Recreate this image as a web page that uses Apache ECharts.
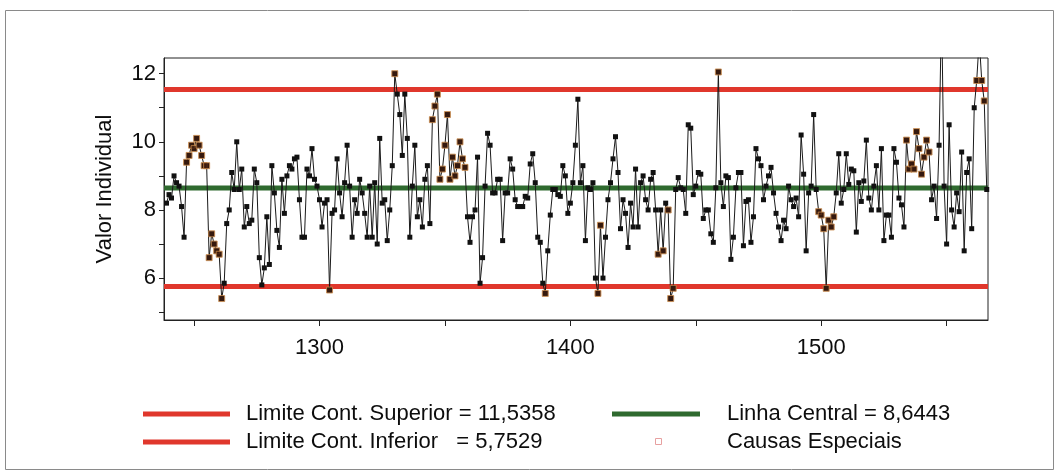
<!DOCTYPE html>
<html>
<head>
<meta charset="utf-8">
<script src="https://cdn.jsdelivr.net/npm/echarts@6/dist/echarts.min.js"></script>
<style>
  html, body { margin: 0; padding: 0; background: #ffffff; }
  #grafico { width: 1059px; height: 475px; }
</style>
</head>
<body>
<div id="grafico"></div>
<script>
// Carta de controle de valores individuais (observações 1239 a 1566)
const primeiraObs = 1239;

const valores1239a1284 = [
  8.2, 8.45, 8.35, 9.0, 8.8, 8.7, 8.1, 7.2, 9.4, 9.6,
  9.9, 9.8, 10.1, 9.9, 9.6, 9.3, 9.3, 6.6, 7.3, 7.0,
  6.8, 6.7, 5.4, 5.85, 7.6, 8.0, 9.1, 8.6, 10.0, 8.6,
  9.2, 7.5, 8.1, 7.6, 7.7, 9.2, 8.8, 6.6, 5.8, 6.3,
  7.8, 6.4, 9.3, 8.5, 7.4, 6.9
];
const valores1285a1347 = [
  8.9, 7.9, 9.0, 9.3, 9.2, 9.5, 9.55, 8.3, 7.2, 7.2,
  9.2, 9.0, 9.8, 8.9, 8.7, 8.3, 7.5, 8.2, 8.3, 5.65,
  7.9, 8.0, 9.5, 8.5, 7.8, 8.8, 9.9, 8.7, 7.2, 8.3,
  7.9, 8.9, 8.5, 7.9, 7.2, 8.7, 7.2, 8.8, 7.0, 10.1,
  8.2, 8.3, 7.1, 8.0, 9.3, 12.0,
  11.4, 10.8, 9.6, 11.4, 10.1, 7.2, 8.7, 9.9, 7.8, 8.3,
  7.5, 8.9, 9.3, 7.6, 10.65, 11.05, 11.4
];
const valores1348a1411 = [
  8.9, 9.2, 9.9, 10.8, 8.9, 9.55, 9.0, 9.3, 10.0, 9.5,
  9.25, 7.8, 7.05, 7.8, 8.0, 9.55, 5.85,
  6.6, 8.7, 10.25, 9.9, 8.5, 8.5, 8.9, 8.9, 7.1, 8.5,
  8.5, 9.5, 9.2, 8.3, 8.1, 8.1, 8.1, 8.4, 8.35, 9.35,
  9.65, 8.8, 7.2, 7.05, 5.85, 5.55,
  6.8, 7.85, 8.6, 8.6, 8.45, 8.4, 9.3, 9.0, 7.9, 8.2,
  8.8, 9.9, 11.25,
  8.8, 9.3, 7.1, 8.65, 8.6, 8.8, 6.0, 5.55
];
const valores1412a1475 = [
  7.55, 6.0, 7.2, 8.3, 8.8, 9.5, 10.15, 9.1, 7.45, 8.3,
  7.9, 6.9, 8.2, 7.5, 9.2, 7.5, 8.8, 9.0, 8.3, 8.0,
  8.9, 9.1, 8.0, 6.7, 8.0, 6.8, 8.2, 8.0, 5.4, 5.7,
  8.6, 8.95, 8.65, 8.6, 7.9, 10.5, 10.4, 8.45, 8.7, 9.1,
  9.05, 7.75, 8.0, 8.0, 7.3, 7.05, 8.65, 12.05, 8.8, 8.1,
  9.0, 8.95, 6.55, 7.2, 8.65, 9.1, 9.1, 6.95, 8.25, 8.3,
  7.05, 7.8, 9.8, 9.5
];
const valores1476a1538 = [
  9.3, 8.3, 8.7, 9.0, 9.25, 8.5, 7.9, 7.5, 7.1, 7.7,
  7.45, 8.7, 8.3, 8.1, 8.35, 7.8, 10.2, 9.05, 6.8, 8.5,
  8.7, 10.8, 8.6, 7.95, 7.85, 7.45, 5.7, 7.7, 7.5, 7.8,
  8.5, 9.65, 8.2, 8.6, 9.65, 8.75, 9.2, 9.15, 7.35, 8.8,
  8.25, 8.85, 10.05, 8.35, 8.0, 8.7, 9.3, 8.0, 9.8, 7.1,
  7.85, 7.85, 7.2, 9.8, 9.4, 8.35, 8.15, 7.5, 10.05, 9.2,
  9.35, 9.2, 10.3
];
const valores1539a1566 = [
  9.8, 9.05, 9.55, 10.05, 9.7, 8.3, 8.7, 7.75, 9.9, 14.0,
  8.7, 7.0, 10.5, 8.0, 7.5, 8.5, 7.95, 9.7, 6.8, 9.1,
  9.5, 7.45, 11.0, 11.8, 13.0, 11.8, 11.2, 8.6
];

// Observações sinalizadas como causas especiais
const causasEspeciais = [
  1247, 1248, 1249, 1250, 1251, 1252, 1253, 1254, 1255, 1256, 1257, 1258, 1259, 1260, 1261,
  1304, 1330,
  1345, 1346, 1347, 1348, 1349, 1350, 1351, 1352, 1353, 1354, 1355, 1356, 1357, 1358,
  1390, 1411, 1412, 1435, 1437, 1439, 1440, 1441, 1459,
  1499, 1500, 1501, 1502, 1503, 1504, 1505,
  1534, 1535, 1536, 1537, 1538, 1539, 1540, 1541, 1542, 1543,
  1548, 1562, 1563, 1564, 1565
];

const limiteSuperior = 11.5358;
const linhaCentral = 8.6443;
const limiteInferior = 5.7529;

const ticksX = [1250, 1300, 1350, 1400, 1450, 1500, 1550];
const rotulosX = [1300, 1400, 1500];
const ticksY = [5, 6, 7, 8, 9, 10, 11, 12];
const rotulosY = [6, 8, 10, 12];

const eixoXMin = 1238, eixoXMax = 1566.5;
const eixoYMin = 4.77, eixoYMax = 12.46;

const valores = [].concat(valores1239a1284, valores1285a1347, valores1348a1411,
  valores1412a1475, valores1476a1538, valores1539a1566);
const pontos = valores.map((v, i) => [primeiraObs + i, v]);
const especiais = pontos.filter(p => causasEspeciais.includes(p[0]));

const fmt = v => v.toFixed(4).replace('.', ',');
const fonte = '"Liberation Sans", Arial, sans-serif';
const corTexto = '#0d0d0d';
const vermelho = '#e0372c';
const verde = '#2f6a2f';

function linhaHorizontal(valor, cor) {
  return {
    type: 'line', silent: true, symbol: 'none', z: 1,
    data: [[eixoXMin, valor], [eixoXMax, valor]],
    lineStyle: { color: cor, width: 5 }
  };
}

const chart = echarts.init(document.getElementById('grafico'), null, { renderer: 'canvas' });
chart.setOption({
  animation: false,
  backgroundColor: '#ffffff',
  grid: { left: 164, right: 71, top: 58, bottom: 155, show: true, borderColor: '#222', borderWidth: 1 },
  xAxis: {
    type: 'value', min: eixoXMin, max: eixoXMax,
    axisLine: { lineStyle: { color: '#222', width: 1 } },
    axisTick: { show: true, length: 6, customValues: ticksX, lineStyle: { color: '#222' } },
    axisLabel: { customValues: rotulosX, margin: 17, fontSize: 22, color: corTexto, fontFamily: fonte,
      formatter: v => String(v) },
    splitLine: { show: false }
  },
  yAxis: {
    type: 'value', min: eixoYMin, max: eixoYMax,
    name: 'Valor Individual', nameLocation: 'middle', nameGap: 48,
    nameTextStyle: { fontSize: 22, color: corTexto, fontFamily: fonte },
    axisLine: { show: true, lineStyle: { color: '#222', width: 1 } },
    axisTick: { show: true, length: 5, customValues: ticksY, lineStyle: { color: '#222' } },
    axisLabel: { customValues: rotulosY, margin: 8, fontSize: 22, color: corTexto, fontFamily: fonte,
      formatter: v => String(v) },
    splitLine: { show: false }
  },
  series: [
    linhaHorizontal(limiteSuperior, vermelho),
    linhaHorizontal(limiteInferior, vermelho),
    linhaHorizontal(linhaCentral, verde),
    {
      type: 'line', z: 3, data: pontos,
      symbol: 'rect', symbolSize: 5, showAllSymbol: true,
      itemStyle: { color: '#111' },
      lineStyle: { color: '#1a1a1a', width: 1 }
    },
    {
      type: 'scatter', z: 4, data: especiais,
      symbol: 'rect', symbolSize: 6,
      itemStyle: { color: '#3e1c0e', borderColor: '#c98a4a', borderWidth: 1 }
    }
  ],
  graphic: [
    { type: 'rect', shape: { x: 5.5, y: 10.5, width: 1048, height: 459 },
      style: { fill: 'none', stroke: '#8a8a8a', lineWidth: 1 }, silent: true },
    { type: 'line', shape: { x1: 143, y1: 414, x2: 230, y2: 414 },
      style: { stroke: vermelho, lineWidth: 5 } },
    { type: 'text', x: 246, y: 414,
      style: { text: 'Limite Cont. Superior = ' + fmt(limiteSuperior), fill: corTexto,
        font: '22px ' + fonte, verticalAlign: 'middle' } },
    { type: 'line', shape: { x1: 143, y1: 442, x2: 230, y2: 442 },
      style: { stroke: vermelho, lineWidth: 5 } },
    { type: 'text', x: 246, y: 442,
      style: { text: 'Limite Cont. Inferior   = ' + fmt(limiteInferior), fill: corTexto,
        font: '22px ' + fonte, verticalAlign: 'middle' } },
    { type: 'line', shape: { x1: 612, y1: 414, x2: 700, y2: 414 },
      style: { stroke: verde, lineWidth: 5 } },
    { type: 'text', x: 727, y: 414,
      style: { text: 'Linha Central = ' + fmt(linhaCentral), fill: corTexto,
        font: '22px ' + fonte, verticalAlign: 'middle' } },
    { type: 'rect', shape: { x: 655.5, y: 438.5, width: 6, height: 6 },
      style: { fill: 'none', stroke: '#e7a0a0', lineWidth: 1 } },
    { type: 'text', x: 727, y: 442,
      style: { text: 'Causas Especiais', fill: corTexto,
        font: '22px ' + fonte, verticalAlign: 'middle' } }
  ]
});
</script>
</body>
</html>
